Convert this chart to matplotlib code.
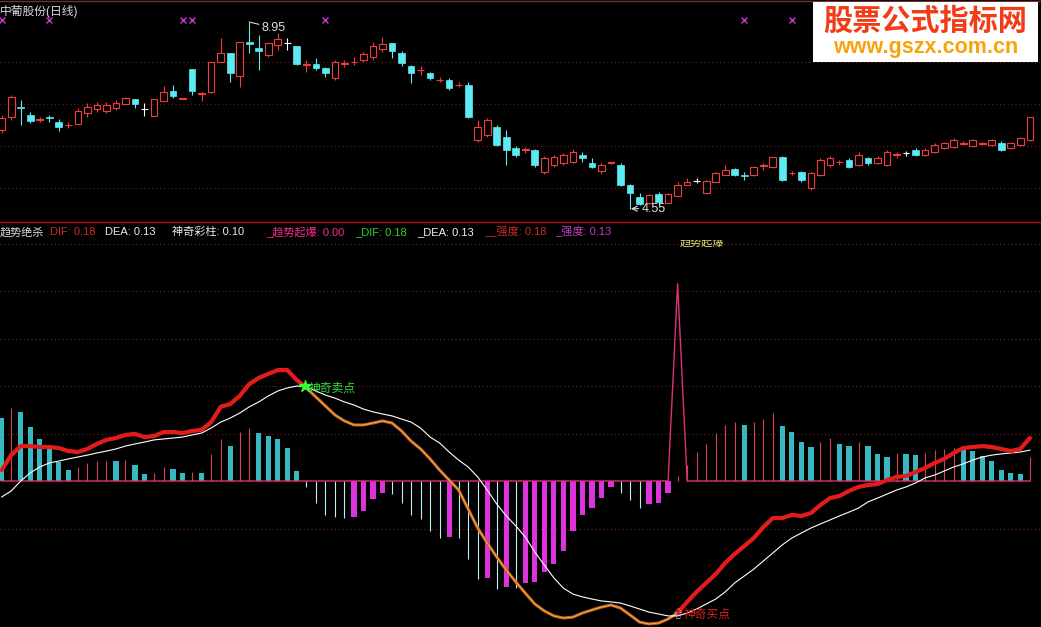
import numpy as np
import matplotlib
matplotlib.use('Agg')
import matplotlib.pyplot as plt
from matplotlib.patches import Rectangle
from matplotlib.lines import Line2D

plt.rcParams['font.family'] = ['Liberation Sans', 'Noto Sans CJK SC', 'DejaVu Sans']

# ---- 日线数据 ----
opens = [6.38, 6.69, 6.93, 6.74, 6.63, 6.68, 6.57, 6.49, 6.52, 6.79,
         6.88, 6.83, 6.90, 7.00, 7.12, 6.88, 6.71, 7.07, 7.31, 7.13,
         7.83, 7.23, 7.29, 8.00, 8.21, 7.67, 8.47, 8.33, 8.17, 8.40,
         8.45, 8.38, 7.92, 7.95, 7.86, 7.62, 7.96, 7.99, 8.05, 8.12,
         8.31, 8.45, 8.21, 7.90, 7.80, 7.74, 7.56, 7.57, 7.44, 7.45,
         6.14, 6.26, 6.45, 6.22, 5.95, 5.90, 5.91, 5.38, 5.55, 5.60,
         5.62, 5.79, 5.60, 5.41, 5.59, 5.55, 5.07, 4.79, 4.65, 4.86,
         4.65, 4.81, 5.07, 5.17, 4.88, 5.15, 5.31, 5.45, 5.30, 5.31,
         5.52, 5.50, 5.74, 5.35, 5.38, 5.00, 5.31, 5.55, 5.61, 5.67,
         5.55, 5.72, 5.60, 5.55, 5.78, 5.83, 5.91, 5.79, 5.86, 5.95,
         5.98, 6.06, 6.00, 6.06, 6.02, 6.07, 5.95, 6.02, 6.14]
closes = [6.67, 7.17, 6.90, 6.60, 6.65, 6.66, 6.45, 6.51, 6.83, 6.93,
          6.98, 6.98, 7.02, 7.14, 7.00, 6.88, 7.12, 7.29, 7.19, 7.15,
          7.31, 7.25, 8.00, 8.21, 7.74, 8.47, 8.43, 8.26, 8.45, 8.55,
          8.45, 7.95, 7.94, 7.86, 7.74, 8.00, 7.98, 8.01, 8.19, 8.38,
          8.43, 8.26, 7.97, 7.74, 7.82, 7.62, 7.58, 7.38, 7.46, 6.69,
          6.45, 6.62, 6.02, 5.91, 5.79, 5.92, 5.55, 5.72, 5.74, 5.79,
          5.86, 5.72, 5.50, 5.55, 5.61, 5.07, 4.88, 4.62, 4.83, 4.67,
          4.86, 5.07, 5.15, 5.17, 5.17, 5.36, 5.43, 5.31, 5.28, 5.50,
          5.54, 5.74, 5.19, 5.37, 5.19, 5.36, 5.67, 5.72, 5.63, 5.50,
          5.79, 5.60, 5.72, 5.86, 5.80, 5.83, 5.79, 5.91, 6.02, 6.07,
          6.14, 6.08, 6.14, 6.08, 6.14, 5.91, 6.07, 6.19, 6.69]
highs = [6.74, 7.21, 7.10, 6.81, 6.69, 6.74, 6.64, 6.57, 6.90, 7.02,
         7.05, 7.05, 7.10, 7.17, 7.12, 7.02, 7.12, 7.43, 7.45, 7.15,
         7.83, 7.29, 8.00, 8.57, 8.21, 8.47, 8.95, 8.64, 8.45, 8.69,
         8.57, 8.38, 8.05, 8.09, 7.88, 8.05, 8.05, 8.12, 8.24, 8.47,
         8.59, 8.45, 8.26, 7.93, 7.90, 7.76, 7.64, 7.62, 7.52, 7.52,
         6.62, 6.67, 6.50, 6.38, 6.00, 5.98, 5.93, 5.76, 5.79, 5.83,
         5.93, 5.86, 5.72, 5.60, 5.62, 5.60, 5.10, 4.88, 4.86, 4.90,
         4.88, 5.15, 5.24, 5.24, 5.19, 5.38, 5.55, 5.48, 5.38, 5.53,
         5.60, 5.74, 5.76, 5.41, 5.41, 5.38, 5.72, 5.76, 5.67, 5.72,
         5.86, 5.74, 5.76, 5.91, 5.86, 5.88, 5.95, 5.95, 6.07, 6.10,
         6.19, 6.12, 6.17, 6.10, 6.17, 6.12, 6.10, 6.22, 6.69]
lows = [6.31, 6.62, 6.50, 6.55, 6.57, 6.57, 6.36, 6.43, 6.52, 6.69,
        6.81, 6.79, 6.86, 7.00, 6.90, 6.71, 6.71, 7.07, 7.14, 7.13,
        7.21, 7.07, 7.26, 8.00, 7.52, 7.40, 8.21, 7.81, 8.12, 8.28,
        8.28, 7.93, 7.76, 7.81, 7.64, 7.57, 7.88, 7.93, 8.00, 8.05,
        8.24, 8.09, 7.90, 7.50, 7.69, 7.57, 7.52, 7.33, 7.40, 6.67,
        6.10, 6.22, 6.00, 5.55, 5.74, 5.83, 5.50, 5.34, 5.50, 5.55,
        5.60, 5.62, 5.48, 5.34, 5.58, 5.05, 4.55, 4.60, 4.62, 4.60,
        4.65, 4.81, 5.07, 5.12, 4.88, 5.15, 5.31, 5.29, 5.19, 5.29,
        5.43, 5.48, 5.17, 5.31, 5.15, 4.95, 5.29, 5.50, 5.55, 5.48,
        5.53, 5.55, 5.58, 5.53, 5.72, 5.76, 5.76, 5.76, 5.83, 5.93,
        5.95, 6.02, 5.98, 6.02, 6.00, 5.88, 5.93, 6.00, 6.12]

# 紫色叉号所在的K线
cross_idx = [0, 5, 19, 20, 34, 78, 83]

# ---- 趋势绝杀 指标 ----
dif = [0.046, 0.109, 0.147, 0.147, 0.143, 0.143, 0.139, 0.126, 0.122, 0.135,
       0.156, 0.173, 0.181, 0.194, 0.198, 0.185, 0.189, 0.206, 0.206, 0.202,
       0.211, 0.215, 0.248, 0.312, 0.324, 0.358, 0.408, 0.434, 0.451, 0.467,
       0.467, 0.425, 0.392, 0.354, 0.316, 0.278, 0.253, 0.236, 0.236, 0.244,
       0.253, 0.244, 0.211, 0.168, 0.135, 0.093, 0.046, 0.004, -0.038, -0.118,
       -0.198, -0.261, -0.320, -0.375, -0.425, -0.472, -0.518, -0.547, -0.568, -0.577,
       -0.573, -0.556, -0.543, -0.531, -0.522, -0.535, -0.564, -0.594, -0.602, -0.598,
       -0.581, -0.556, -0.509, -0.467, -0.429, -0.392, -0.345, -0.307, -0.274, -0.240,
       -0.194, -0.156, -0.156, -0.143, -0.147, -0.135, -0.101, -0.072, -0.063, -0.042,
       -0.025, -0.017, -0.013, 0.004, 0.017, 0.021, 0.038, 0.055, 0.076, 0.093,
       0.118, 0.139, 0.143, 0.147, 0.143, 0.135, 0.126, 0.135, 0.181]
dea = [-0.067, -0.042, 0.000, 0.034, 0.059, 0.076, 0.084, 0.093, 0.101, 0.109,
       0.118, 0.126, 0.135, 0.147, 0.156, 0.164, 0.173, 0.177, 0.181, 0.185,
       0.194, 0.202, 0.223, 0.248, 0.265, 0.286, 0.312, 0.333, 0.358, 0.379,
       0.392, 0.400, 0.396, 0.379, 0.362, 0.349, 0.333, 0.320, 0.303, 0.291,
       0.282, 0.274, 0.261, 0.248, 0.223, 0.185, 0.160, 0.122, 0.088, 0.059,
       0.017, -0.038, -0.097, -0.147, -0.189, -0.236, -0.299, -0.354, -0.408, -0.451,
       -0.476, -0.488, -0.497, -0.505, -0.509, -0.514, -0.526, -0.539, -0.552, -0.560,
       -0.568, -0.568, -0.556, -0.539, -0.518, -0.497, -0.467, -0.429, -0.400, -0.371,
       -0.337, -0.303, -0.269, -0.240, -0.219, -0.198, -0.181, -0.164, -0.147, -0.131,
       -0.114, -0.088, -0.072, -0.055, -0.038, -0.025, -0.008, 0.013, 0.025, 0.042,
       0.059, 0.072, 0.088, 0.101, 0.109, 0.114, 0.118, 0.122, 0.130]
hist = [0.265, 0.307, 0.291, 0.227, 0.177, 0.139, 0.080, 0.046, 0.059, 0.076,
        0.084, 0.086, 0.083, 0.088, 0.067, 0.030, 0.034, 0.059, 0.051, 0.034,
        0.038, 0.034, 0.114, 0.177, 0.147, 0.206, 0.223, 0.202, 0.189, 0.177,
        0.139, 0.042, -0.025, -0.093, -0.143, -0.152, -0.156, -0.151, -0.126, -0.076,
        -0.051, -0.053, -0.093, -0.143, -0.160, -0.211, -0.240, -0.236, -0.242, -0.328,
        -0.413, -0.408, -0.455, -0.446, -0.450, -0.429, -0.427, -0.383, -0.349, -0.295,
        -0.211, -0.143, -0.114, -0.072, -0.025, -0.051, -0.080, -0.114, -0.097, -0.093,
        -0.051, 0.021, 0.067, 0.122, 0.156, 0.202, 0.236, 0.248, 0.236, 0.248,
        0.261, 0.286, 0.232, 0.206, 0.164, 0.143, 0.164, 0.181, 0.156, 0.147,
        0.164, 0.147, 0.114, 0.101, 0.118, 0.114, 0.110, 0.118, 0.131, 0.135,
        0.139, 0.137, 0.126, 0.105, 0.084, 0.046, 0.034, 0.029, 0.100]
# 趋势起爆: 只有一根K线不为0
spike_idx = 71
spike_val = 0.83
sell_idx = 32
buy_idx = 71

legend_items = [('趋势绝杀', '#DDDDDD', 0), ('DIF: 0.18', '#D02828', 50),
                ('DEA: 0.13', '#E8E8E8', 105), ('神奇彩柱: 0.10', '#E8E8E8', 172),
                ('_趋势起爆: 0.00', '#F0308A', 266), ('_DIF: 0.18', '#30D030', 355),
                ('_DEA: 0.13', '#F0F0F0', 417), ('__强度: 0.18', '#D02828', 484),
                ('_强度: 0.13', '#C040C0', 555)]

n = len(closes)
xs = np.arange(n)
dif = np.array(dif)
dea = np.array(dea)
hist = np.array(hist)

W, H = 1041, 627
fig = plt.figure(figsize=(W / 100, H / 100), dpi=100, facecolor='black')


def fy(py):
    return 1 - py / H


ax1 = fig.add_axes([0, fy(221), 1, 221 / H])
ax2 = fig.add_axes([0, 0, 1, fy(240)])
xlim = (-1.7 / 9.52, (W - 1.7) / 9.52)
for ax in (ax1, ax2):
    ax.set_axis_off()
    ax.set_xlim(*xlim)

ax1.set_ylim(8.95 - 199 / 42.05, 8.95 + 22 / 42.05)
ax2.set_ylim(-146 / 237.5, 241 / 237.5)

# 网格虚线
for p in [5, 6, 7, 8]:
    ax1.axhline(p, color='#6E1C1C', lw=0.8, ls=(0, (1, 2.5)), zorder=0)
for v in [0.2, 0.4, 0.6, 0.8, 1.0, -0.2]:
    ax2.axhline(v, color='#7A2020', lw=0.8, ls=(0, (1, 2.5)), zorder=0)

# ---- K线 ----
red = '#F03C3C'
cyan = '#5CEBF2'
bw = 0.7
for i in range(n):
    o, c, hi, lo = opens[i], closes[i], highs[i], lows[i]
    if c > o:
        ax1.vlines(i, lo, o, color=red, lw=0.8)
        ax1.vlines(i, c, hi, color=red, lw=0.8)
        ax1.add_patch(Rectangle((i - bw / 2, o), bw, c - o, fill=False,
                                edgecolor=red, lw=0.8))
    elif c < o:
        ax1.vlines(i, lo, hi, color=cyan, lw=0.8)
        ax1.add_patch(Rectangle((i - bw / 2, c), bw, o - c, facecolor=cyan,
                                edgecolor=cyan, lw=0.5))
    else:
        ax1.vlines(i, lo, hi, color='white', lw=0.8)
        ax1.hlines(o, i - bw / 2, i + bw / 2, color='white', lw=0.8)

ax1.plot(cross_idx, [9.0] * len(cross_idx), 'x', color='#CC33CC', ms=4, mew=1)

ax1.annotate('8.95', xy=(26, highs[26]), xytext=(27.3, highs[26] - 0.14),
             color='#DDDDDD', fontsize=9, va='center',
             arrowprops=dict(arrowstyle='-', color='#DDDDDD', lw=0.8,
                             shrinkA=0, shrinkB=0))
ax1.vlines(66, lows[66], lows[66] - 0.04, color='#DDDDDD', lw=0.8)
ax1.annotate('4.55', xy=(66.1, lows[66] - 0.04), xytext=(67.2, lows[66] - 0.04),
             color='#DDDDDD', fontsize=9, va='center',
             arrowprops=dict(arrowstyle='->', color='#DDDDDD', lw=0.8,
                             shrinkA=0, shrinkB=0))

# ---- 神奇彩柱 ----
prev = np.r_[np.inf, hist[:-1]]
for i, v in enumerate(hist):
    if v >= 0:
        if v > prev[i]:
            ax2.vlines(i, 0, v, color='#D8405A', lw=0.8, zorder=2)
        else:
            ax2.bar(i, v, width=0.55, color='#38B8C0', zorder=2)
    else:
        if v < prev[i]:
            ax2.vlines(i, v, 0, color='#BFEFEF', lw=0.8, zorder=2)
        else:
            ax2.bar(i, v, width=0.55, color='#DD33DD', zorder=2)

spike = np.zeros(n)
spike[spike_idx] = spike_val
ax2.plot(xs, spike, color='#E0307A', lw=1, zorder=2.5)
ax2.text(spike_idx + 0.2, 1.005, '趋势起爆', color='#E8DC78', fontsize=8,
         va='center', ha='left', clip_on=True)

# DIF 与 DEA
above = dif >= dea
near = above | np.r_[False, above[:-1]]
ax2.plot(xs, dif, color='#C8601E', lw=2.2, zorder=3, solid_capstyle='round')
ax2.plot(xs, dif, color='#EBC050', lw=0.6, zorder=3.1)
ax2.plot(xs, dea, color='white', lw=0.8, zorder=3.5)
ax2.plot(xs, np.where(near, dif, np.nan), color='#E41B1B', lw=3.0, zorder=4,
         solid_capstyle='round')

ax2.plot(sell_idx - 0.1, dif[sell_idx] + 0.01, marker='*', color='#33FF33',
         ms=9, zorder=6)
ax2.text(sell_idx + 0.25, dif[sell_idx] - 0.005, '神奇卖点', color='#33DD33',
         fontsize=8.5, va='center', ha='left', zorder=6)
ax2.text(buy_idx, dif[buy_idx] - 0.01, '⇧', color='#FF9AAA', fontsize=9,
         va='center', ha='center', zorder=6)
ax2.text(buy_idx + 0.6, dif[buy_idx] - 0.005, '神奇买点', color='#E02020',
         fontsize=8.5, va='center', ha='left', zorder=6)

# ---- 文字与边框 ----
fig.text(0, fy(11), '中葡股份(日线)', color='#D8D8D8', fontsize=8.5, va='center')
for label, col, px in legend_items:
    fig.text(px / W, fy(232), label, color=col, fontsize=8, va='center')

fig.add_artist(Line2D([0, 1], [fy(221.5), fy(221.5)], color='#B01818', lw=1))
fig.add_artist(Line2D([0, 1], [fy(0.5), fy(0.5)], color='#703030', lw=1))

fig.add_artist(Rectangle((813 / W, fy(62)), 225 / W, 60 / H,
                         transform=fig.transFigure, facecolor='white',
                         edgecolor='none', zorder=10))
fig.text(925 / W, fy(21), '股票公式指标网', color='#F23C18', fontsize=21,
         fontweight='bold', family=['Noto Sans CJK SC'], ha='center',
         va='center', zorder=11)
fig.text(926 / W, fy(48), 'www.gszx.com.cn', color='#F7A30A', fontsize=15.5,
         fontweight='bold', family=['Liberation Sans'], ha='center',
         va='center', zorder=11)

fig.savefig('out.png', dpi=100, facecolor='black')
